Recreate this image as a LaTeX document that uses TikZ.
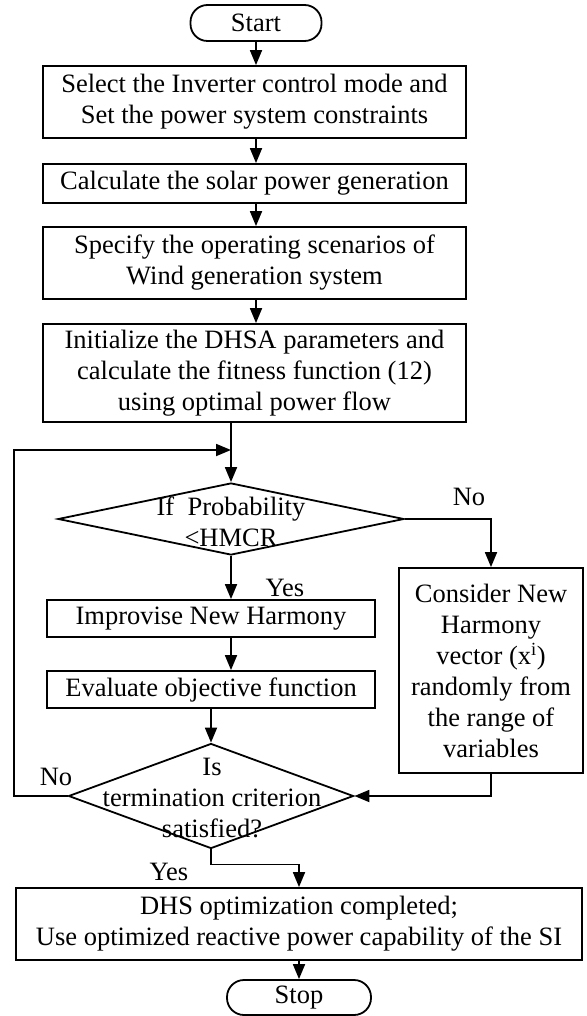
\documentclass[tikz,border=0pt]{standalone}
\usepackage{fontspec}
\setmainfont{Liberation Serif}
\usetikzlibrary{shapes.geometric,arrows.meta}
\begin{document}
\begin{tikzpicture}[x=1pt,y=-1pt,line width=1.8pt,
  font=\fontsize{26.5}{31}\selectfont,
  box/.style={draw,inner sep=0pt,align=center},
  term/.style={draw,rounded corners=17pt,inner sep=0pt},
  dia/.style={draw,diamond,inner sep=0pt},
  arr/.style={-{Triangle[width=12pt,length=15pt]}},
  lbl/.style={inner sep=0pt,align=center}]
\useasboundingbox (0,0) rectangle (586,1016);

% main column
\node[term,minimum width=131pt,minimum height=36pt] (start) at (256,23) {Start};
\node[box,minimum width=423pt,minimum height=72pt] (sel) at (254.5,102) {Select the Inverter control mode and\\Set the power system constraints};
\node[box,minimum width=423pt,minimum height=39pt] (solar) at (254.5,183.5) {Calculate the solar power generation};
\node[box,minimum width=423pt,minimum height=72pt] (wind) at (254.5,263) {Specify the operating scenarios of\\Wind generation system};
\node[box,minimum width=423pt,minimum height=98pt] (init) at (254.5,373) {Initialize the DHSA parameters and\\calculate the fitness function (12)\\using optimal power flow};

% first decision
\node[dia,minimum width=346pt,minimum height=72pt] (prob) at (231,519) {};
\node[lbl] (probt) at (231,522) {If\ \ Probability\\<HMCR};
\node[box,minimum width=328pt,minimum height=37pt] (impr) at (211,618.5) {Improvise New Harmony};
\node[box,minimum width=328pt,minimum height=37pt] (eval) at (211,689.5) {Evaluate objective function};
\node[box,minimum width=184pt,minimum height=205pt] (cons) at (491,670.5) {Consider New\\Harmony\\vector (x\textsuperscript{i})\\randomly from\\the range of\\variables};

% second decision
\node[dia,minimum width=285pt,minimum height=105pt] (term) at (211,796) {};
\node[lbl] (termt) at (212,798) {Is\\termination criterion\\satisfied?};
\node[box,minimum width=566pt,minimum height=72pt] (done) at (299,924) {DHS optimization completed;\\Use optimized reactive power capability of the SI};
\node[term,minimum width=144pt,minimum height=35pt] (stop) at (299,997.5) {Stop};

% arrows
\draw[arr] (start) -- (start |- sel.north);
\draw[arr] (sel.south -| start) -- (solar.north -| start);
\draw[arr] (solar.south -| start) -- (wind.north -| start);
\draw[arr] (wind.south -| start) -- (init.north -| start);
\draw[arr] (init.south -| prob) -- (prob.north);
\draw[arr] (prob.east) -| (cons.north);
\draw[arr] (prob.south) -- (prob.south |- impr.north);
\draw[arr] (impr.south -| prob) -- (eval.north -| prob);
\draw[arr] (eval) -- (term);
\draw[arr] (cons.south) |- (term.east);
\coordinate (jn) at (231,450);
\coordinate (lft) at (14,450);
\draw[arr] (term.west) -| (lft) -- (jn);
\draw[arr] (term.south) -- ++(0,15) -| (done.north);
\draw[arr] (done) -- (stop);

% labels
\node[lbl] (no1) at (469,497) {No};
\node[lbl] (yes1) at (285,588) {Yes};
\node[lbl] (no2) at (56,777) {No};
\node[lbl] (yes2) at (169,872) {Yes};
\end{tikzpicture}
\end{document}
